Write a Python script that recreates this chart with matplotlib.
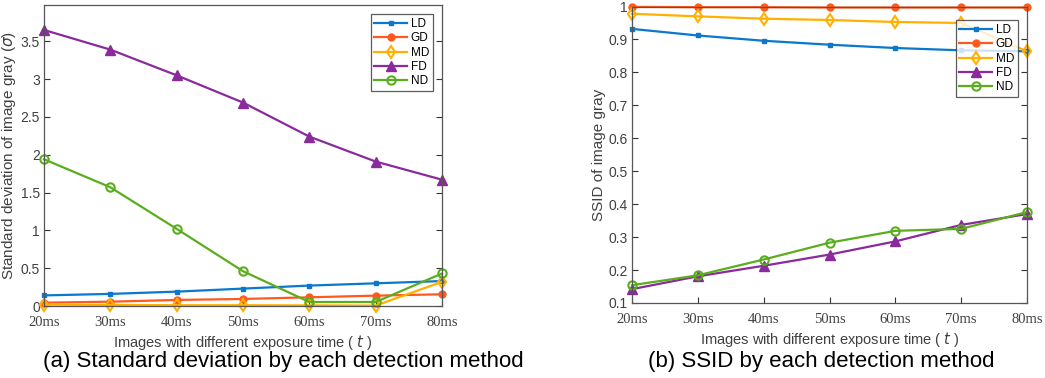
import matplotlib
matplotlib.use("Agg")
import matplotlib.pyplot as plt

x_labels = ["20ms", "30ms", "40ms", "50ms", "60ms", "70ms", "80ms"]
series = ["LD", "GD", "MD", "FD", "ND"]

# (a) standard deviation
std_LD = [0.14, 0.16, 0.19, 0.23, 0.27, 0.30, 0.33]
std_GD = [0.044, 0.057, 0.08, 0.093, 0.115, 0.137, 0.155]
std_MD = [0.018, 0.015, 0.01, 0.01, 0.008, 0.005, 0.32]
std_FD = [3.65, 3.39, 3.05, 2.69, 2.24, 1.91, 1.67]
std_ND = [1.94, 1.57, 1.02, 0.46, 0.053, 0.053, 0.43]

# (b) SSID
ssid_LD = [0.932, 0.912, 0.896, 0.884, 0.874, 0.867, 0.864]
ssid_GD = [0.999, 0.998, 0.998, 0.997, 0.997, 0.997, 0.997]
ssid_MD = [0.978, 0.970, 0.963, 0.959, 0.953, 0.950, 0.864]
ssid_FD = [0.142, 0.181, 0.213, 0.247, 0.287, 0.337, 0.370]
ssid_ND = [0.154, 0.184, 0.232, 0.283, 0.319, 0.325, 0.376]

colors = {"LD": "#0a78cc", "GD": "#ff5a1e", "MD": "#ffb000", "FD": "#8a2a9c", "ND": "#5aae1e"}
styles = {
    "LD": dict(marker="s", ms=3, mfc=colors["LD"]),
    "GD": dict(marker="o", ms=5, mfc=colors["GD"]),
    "MD": dict(marker="d", ms=6, mfc="none", mew=1.5),
    "FD": dict(marker="^", ms=7, mfc=colors["FD"]),
    "ND": dict(marker="o", ms=6, mfc="none", mew=1.5),
}

W, H = 1045, 378
fig = plt.figure(figsize=(W / 100, H / 100), dpi=100)
sans = "Liberation Sans"
serif = "Liberation Serif"
tc = "#404040"

def setup(ax, data, ylim, yticks, ytl, ylabel, ylsize):
    xs = list(range(len(x_labels)))
    for name, vals in zip(series, data):
        ax.plot(xs, vals, color=colors[name], lw=1.6, label=name, mec=colors[name],
                clip_on=False, **styles[name])
    ax.set_xlim(0, len(x_labels) - 1)
    ax.set_ylim(*ylim)
    ax.set_xticks(xs)
    ax.set_xticklabels(x_labels, fontfamily=serif, fontsize=10.5, color=tc)
    ax.set_yticks(yticks)
    ax.set_yticklabels(ytl, fontfamily=sans, fontsize=10, color=tc)
    ax.tick_params(direction="in", length=4, width=0.8, color="#333333", right=True, top=False, pad=3)
    ax.tick_params(axis="x", pad=7)
    for s in ax.spines.values():
        s.set_color("#555555")
        s.set_linewidth(0.9)
    ax.set_xlabel("Images with different exposure time ( $\\mathit{t}$ )", fontfamily=sans, fontsize=10.5,
                  color=tc, labelpad=3)
    ax.set_ylabel(ylabel, fontfamily=sans, fontsize=ylsize, color=tc, labelpad=2)
    leg = ax.legend(loc="upper right", prop={"family": sans, "size": 8.5}, frameon=True,
                    fancybox=False, edgecolor="#333333", handlelength=2.8, borderpad=0.3,
                    labelspacing=0.2, handletextpad=0.3, borderaxespad=0.8)
    leg.get_frame().set_linewidth(0.9)
    leg.set_zorder(5)

ax1 = fig.add_axes([44 / W, 1 - 306 / H, (442 - 44) / W, (306 - 5) / H])
setup(ax1, [std_LD, std_GD, std_MD, std_FD, std_ND], (0, 3.98),
      [0, 0.5, 1, 1.5, 2, 2.5, 3, 3.5], ["0", "0.5", "1", "1.5", "2", "2.5", "3", "3.5"],
      "Standard deviation of image gray ($\\sigma$)", 11)

ax2 = fig.add_axes([632 / W, 1 - 303 / H, (1027 - 632) / W, (303 - 6.5) / H])
setup(ax2, [ssid_LD, ssid_GD, ssid_MD, ssid_FD, ssid_ND], (0.1, 1.0),
      [0.1, 0.2, 0.3, 0.4, 0.5, 0.6, 0.7, 0.8, 0.9, 1.0],
      ["0.1", "0.2", "0.3", "0.4", "0.5", "0.6", "0.7", "0.8", "0.9", "1"],
      "SSID of image gray", 11)
ax2.legend_.set_bbox_to_anchor((1.0, 0.985), transform=ax2.transAxes)

fig.text(283 / W, 1 - 362 / H, "(a) Standard deviation by each detection method", ha="center", va="center",
         fontfamily=sans, fontsize=16, color="black")
fig.text(821 / W, 1 - 362 / H, "(b) SSID by each detection method", ha="center", va="center",
         fontfamily=sans, fontsize=16, color="black")

fig.savefig("out.png", dpi=100)
